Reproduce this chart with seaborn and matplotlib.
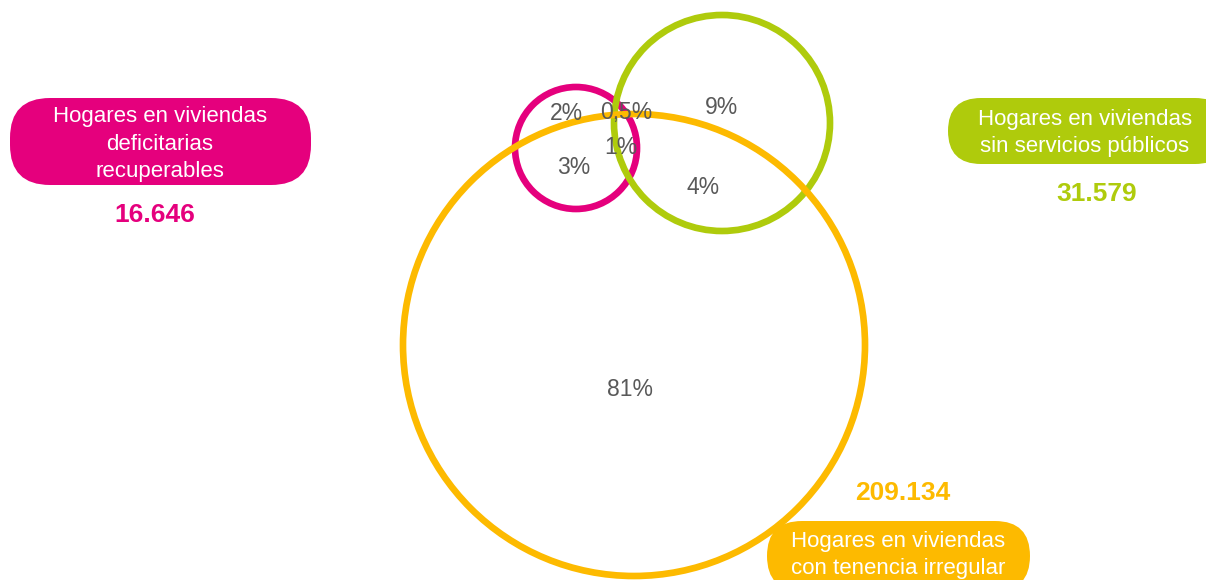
import matplotlib
matplotlib.use("Agg")
import matplotlib.pyplot as plt
import seaborn as sns
from matplotlib.patches import Circle, FancyBboxPatch

# data
set_names = ["Hogares en viviendas\ndeficitarias\nrecuperables",
             "Hogares en viviendas\nsin servicios públicos",
             "Hogares en viviendas\ncon tenencia irregular"]
set_totals = ["16.646", "31.579", "209.134"]
region_labels = ["2%", "0,5%", "1%", "3%", "9%", "4%", "81%"]

colors = ["#E5007D", "#AFCB0C", "#FDBA00"]

sns.set_theme(style="white")
plt.rcParams['font.family'] = ['Liberation Sans', 'DejaVu Sans']

fig = plt.figure(figsize=(12.06, 5.8), dpi=100)
ax = fig.add_axes([0, 0, 1, 1])
ax.set_xlim(0, 1206)
ax.set_ylim(580, 0)
ax.set_aspect("equal")
ax.axis("off")

# circles: (cx, cy, r) in pixels, drawn pink, yellow, green
circles = {0: (576, 148, 61), 2: (634, 345, 231), 1: (722, 123, 108)}
for i in [0, 2, 1]:
    cx, cy, r = circles[i]
    ax.add_patch(Circle((cx, cy), r, fill=False, edgecolor=colors[i], lw=4.8, zorder=2 + i))

# region percentages
region_pos = [(566, 113), (626, 113), (621, 148), (574, 168), (722, 108), (703, 187), (630, 390)]
for lab, (x, y) in zip(region_labels, region_pos):
    ax.text(x, y, lab, ha="center", va="center", fontsize=16.5, color="#595959", zorder=10)

# label boxes
boxes = [(10, 98, 301, 87), (948, 98, 280, 66), (767, 521, 263, 70)]
text_pos = [(160, 144), (1085, 133), (898, 555)]
total_pos = [(155, 215), (1097, 194), (903, 493)]
for i in range(3):
    bx, by, bw, bh = boxes[i]
    rs = min(bh / 2, 40)
    ax.add_patch(FancyBboxPatch((bx, by), bw, bh,
                                boxstyle=f"round,pad=0,rounding_size={rs}",
                                facecolor=colors[i], edgecolor="none", zorder=1))
    ax.text(*text_pos[i], set_names[i], ha="center", va="center", fontsize=16,
            color="white", linespacing=1.4, zorder=11)
    ax.text(*total_pos[i], set_totals[i], ha="center", va="center", fontsize=19,
            fontweight="bold", color=colors[i], zorder=11)

fig.savefig("out.png", dpi=100)
